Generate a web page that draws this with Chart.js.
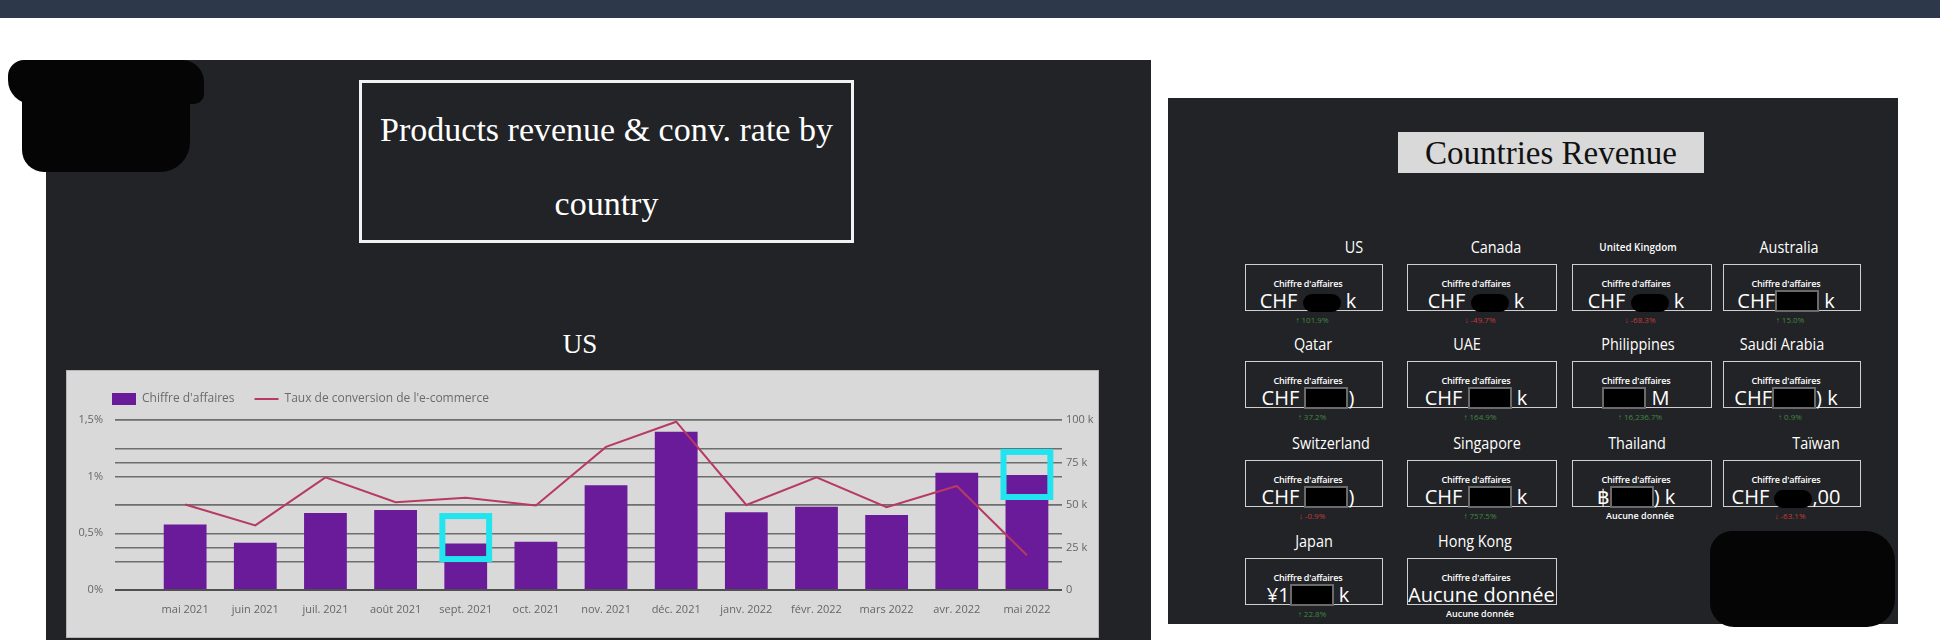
<!DOCTYPE html>
<html lang="fr">
<head>
<meta charset="utf-8">
<title>Products revenue &amp; conv. rate by country</title>
<script src="https://cdn.jsdelivr.net/npm/chart.js@4.4.1/dist/chart.umd.min.js"></script>
<style>
  html, body { margin: 0; padding: 0; }
  body { width: 1940px; height: 640px; background: #fff; position: relative; overflow: hidden; font-family: 'Open Sans', sans-serif; }
  .abs { position: absolute; }
  #topbar { left: 0; top: 0; width: 1940px; height: 18px; background: #2e384b; }
  #left-panel { left: 46px; top: 60px; width: 1105px; height: 580px; background: #222326; }
  .blot { position: absolute; background: #050505; }
  #title-box { left: 359px; top: 80px; width: 495px; height: 163px; box-sizing: border-box; border: 3px solid #f2f2f2; color: #fff; font-family: 'Liberation Serif', serif; font-size: 34px; line-height: 74px; text-align: center; padding-top: 10px; }
  #subtitle { left: 480px; top: 329px; width: 200px; text-align: center; color: #fff; font-family: 'Liberation Serif', serif; font-size: 27px; line-height: 30px; }
  #chart-box { left: 66px; top: 370px; width: 1033px; height: 268px; background: #d9d9d9; box-shadow: inset 0 0 0 1px #b5b5b5; }
  #chart-box canvas { display: block; }
  #right-panel { left: 1168px; top: 98px; width: 730px; height: 526px; background: #222326; }
  #countries-title { left: 1398px; top: 132px; width: 306px; height: 41px; box-sizing: border-box; padding-top: 3px; background: #d9d9d9; color: #111; text-align: center; font-family: 'Liberation Serif', serif; font-size: 33px; line-height: 37px; }
  .country { position: absolute; width: 200px; text-align: center; color: #fff; font-size: 16px; line-height: 20px; transform: scaleX(0.9); }
  .country.small { font-size: 11px; font-weight: 600; }
  .card { position: absolute; box-sizing: border-box; height: 47px; border: 1px solid #cfcfcf; color: #fff; }
  .card .lbl { position: absolute; left: 0; right: 12px; top: 13px; text-align: center; font-size: 9px; font-weight: 600; line-height: 11px; letter-spacing: -0.2px; }
  .card .val { position: absolute; left: 0; right: 12px; top: 24px; text-align: center; font-size: 20px; line-height: 24px; white-space: nowrap; }
  .mask { display: inline-block; box-sizing: border-box; width: 44px; height: 22px; margin-top: 1px; vertical-align: top; background: #000; border: 2px solid #6a6a6a; }
  .mask.blob { width: 38px; height: 18px; margin-top: 5px; border: none; border-radius: 9px; }
  .change { position: absolute; width: 120px; text-align: center; font-size: 8px; line-height: 10px; }
  .change.up { color: #3f8a3f; }
  .change.down { color: #c23b3b; }
  .change.none { color: #fff; font-size: 9px; font-weight: 600; }
</style>
</head>
<body>
<div id="topbar" class="abs"></div>
<div id="left-panel" class="abs"></div>
<div class="blot" style="left:8px;top:60px;width:196px;height:44px;border-radius:16px 22px 10px 24px"></div>
<div class="blot" style="left:22px;top:80px;width:168px;height:92px;border-radius:8px 10px 30px 22px"></div>
<div id="title-box" class="abs">Products revenue &amp; conv. rate by<br>country</div>
<div id="subtitle" class="abs">US</div>
<div id="chart-box" class="abs"><canvas id="revenue-chart" width="1033" height="268"></canvas></div>

<div id="right-panel" class="abs"></div>
<div id="countries-title" class="abs">Countries Revenue</div>
<div id="cards"></div>
<div class="blot" style="left:1710px;top:531px;width:185px;height:96px;border-radius:22px 30px 28px 24px"></div>

<script>
// Chart data
const months = ['mai 2021', 'juin 2021', 'juil. 2021', 'août 2021', 'sept. 2021', 'oct. 2021', 'nov. 2021',
    'déc. 2021', 'janv. 2022', 'févr. 2022', 'mars 2022', 'avr. 2022', 'mai 2022'];
const revenueK = [38.6, 27.8, 45.3, 47.1, 27.3, 28.4, 61.6, 93.1, 45.7, 49.0, 44.1, 69.0, 67.6];
const convRate = [0.754, 0.57, 0.994, 0.775, 0.813, 0.746, 1.263, 1.485, 0.75, 0.994, 0.73, 0.918, 0.307];

// highlighted months (cyan frames), in k on the right axis
const highlightMonths = ['sept. 2021', 'mai 2022'];
const highlightLowK = [18.2, 54.7];
const highlightHighK = [43.5, 81.2];

// Countries Revenue cards
const countryNames = ['US', 'Canada', 'United Kingdom', 'Australia', 'Qatar', 'UAE', 'Philippines', 'Saudi Arabia',
    'Switzerland', 'Singapore', 'Thailand', 'Taïwan', 'Japan', 'Hong Kong'];
const valuePrefix = ['CHF ', 'CHF ', 'CHF ', 'CHF', 'CHF ', 'CHF ', '', 'CHF', 'CHF ', 'CHF ', '฿', 'CHF ', '¥1', 'Aucune donnée'];
const valueSuffix = [' k', ' k', ' k', ' k', ')', ' k', ' M', ') k', ')', ' k', ') k', ',00', ' k', ''];
const maskKind = ['blob', 'blob', 'blob', 'box', 'box', 'box', 'box', 'box', 'box', 'box', 'box', 'blob', 'box', ''];
const changeText = ['↑ 101.9%', '↓ -49.7%', '↓ -68.3%', '↑ 15.0%', '↑ 37.2%', '↑ 164.9%', '↑ 16,236.7%', '↑ 0.9%',
    '↓ -0.9%', '↑ 757.5%', 'Aucune donnée', '↓ -63.1%', '↑ 22.8%', 'Aucune donnée'];
const changeKind = ['up', 'down', 'down', 'up', 'up', 'up', 'up', 'up', 'down', 'up', 'none', 'down', 'up', 'none'];

// card grid layout
const cardLeft = [1245, 1407, 1572, 1723];
const cardWidth = [138, 150, 140, 138];
const cardTop = [264, 361, 460, 558];
const labelCenterX = [1354, 1496, 1638, 1789, 1313, 1467, 1638, 1782, 1331, 1487, 1637, 1816, 1314, 1475];

const cards = document.getElementById('cards');
countryNames.forEach((name, i) => {
    const col = i % 4;
    const row = Math.floor(i / 4);
    const left = cardLeft[col];
    const top = cardTop[row];
    const centre = left + cardWidth[col] / 2;

    const label = document.createElement('div');
    label.className = 'country' + (name === 'United Kingdom' ? ' small' : '');
    label.style.left = (labelCenterX[i] - 100) + 'px';
    label.style.top = (top - 27) + 'px';
    label.textContent = name;
    cards.appendChild(label);

    const card = document.createElement('div');
    card.className = 'card';
    card.style.left = left + 'px';
    card.style.top = top + 'px';
    card.style.width = cardWidth[col] + 'px';
    const mask = maskKind[i] ? `<span class="mask ${maskKind[i] === 'blob' ? 'blob' : ''}"></span>` : '';
    card.innerHTML = `<div class="lbl">Chiffre d'affaires</div>` +
        `<div class="val">${valuePrefix[i]}${mask}${valueSuffix[i]}</div>`;
    cards.appendChild(card);

    const change = document.createElement('div');
    change.className = 'change ' + changeKind[i];
    change.style.left = (centre - 62) + 'px';
    change.style.top = (top + 51) + 'px';
    change.textContent = changeText[i];
    cards.appendChild(change);
});

// legend: fixed height, and moved right so it lines up over the axis labels
const legendPlacement = {
    id: 'legendPlacement',
    beforeInit(chart) {
        const fit = chart.legend.fit;
        chart.legend.fit = function () {
            fit.call(this);
            this.height = 47;
        };
    },
    afterLayout(chart) {
        chart.legend.left = 26;
    }
};

// cyan frames drawn over the highlighted bars
const highlightBoxes = {
    id: 'highlightBoxes',
    afterDatasetsDraw(chart) {
        const { ctx, scales: { y1 } } = chart;
        const bars = chart.getDatasetMeta(0).data;
        ctx.save();
        ctx.strokeStyle = '#22e4ee';
        ctx.lineWidth = 6;
        highlightMonths.forEach((m, i) => {
            const bar = bars[months.indexOf(m)];
            const half = bar.width / 2 + 2;
            const top = y1.getPixelForValue(highlightHighK[i]);
            const bottom = y1.getPixelForValue(highlightLowK[i]);
            ctx.strokeRect(bar.x - half, top, half * 2, bottom - top);
        });
        ctx.restore();
    }
};

const tickFont = { family: 'Open Sans', size: 11 };
const gridColor = (context) => context.tick && context.tick.value === 0 ? '#505050' : '#6e6e6e';
const gridWidth = (context) => context.tick && context.tick.value === 0 ? 2 : 1.5;

const revenueChart = new Chart(document.getElementById('revenue-chart'), {
    type: 'bar',
    data: {
        labels: months,
        datasets: [
            {
                type: 'bar',
                label: "Chiffre d'affaires",
                data: revenueK,
                yAxisID: 'y1',
                backgroundColor: '#6a1b9a',
                categoryPercentage: 1,
                barPercentage: 0.61,
                pointStyle: 'rect',
                order: 1
            },
            {
                type: 'line',
                label: "Taux de conversion de l'e-commerce",
                data: convRate,
                yAxisID: 'y',
                borderColor: '#b73a62',
                backgroundColor: '#b73a62',
                borderWidth: 2,
                pointRadius: 0,
                pointBorderWidth: 2,
                pointStyle: 'line',
                tension: 0,
                order: 0
            }
        ]
    },
    options: {
        responsive: false,
        animation: false,
        layout: { padding: { left: 0, top: 3, right: 0, bottom: 0 } },
        plugins: {
            legend: {
                position: 'top',
                align: 'start',
                labels: {
                    usePointStyle: true,
                    pointStyleWidth: 24,
                    boxHeight: 13,
                    padding: 20,
                    color: '#6b6b6b',
                    font: { family: 'Open Sans', size: 12 },
                    sort: (a, b) => a.datasetIndex - b.datasetIndex
                }
            },
            tooltip: { enabled: false }
        },
        scales: {
            x: {
                offset: true,
                grid: { display: false },
                border: { display: false },
                ticks: { color: '#666', font: tickFont, maxRotation: 0, autoSkip: false, padding: 5 },
                // leave one empty slot on the left like the original report
                afterBuildTicks: (scale) => {
                    scale._startValue = -1;
                    scale._valueRange = months.length + 0.5;
                },
                afterFit: (scale) => { scale.height = 48; }
            },
            y: {
                position: 'left',
                min: 0,
                max: 1.5,
                ticks: {
                    stepSize: 0.25,
                    padding: 12,
                    color: '#666',
                    font: tickFont,
                    callback: (v) => Math.round(v * 100) % 50 === 0 ? String(v).replace('.', ',') + '%' : ''
                },
                grid: { drawTicks: false, color: gridColor, lineWidth: gridWidth },
                border: { display: false },
                afterFit: (scale) => { scale.width = 49; }
            },
            y1: {
                position: 'right',
                min: 0,
                max: 100,
                ticks: {
                    stepSize: 25,
                    padding: 4,
                    color: '#666',
                    font: tickFont,
                    callback: (v) => v === 0 ? '0' : v + ' k'
                },
                grid: { drawTicks: false, color: gridColor, lineWidth: gridWidth },
                border: { display: false },
                afterFit: (scale) => { scale.width = 37; }
            }
        }
    },
    plugins: [legendPlacement, highlightBoxes]
});
</script>
</body>
</html>
